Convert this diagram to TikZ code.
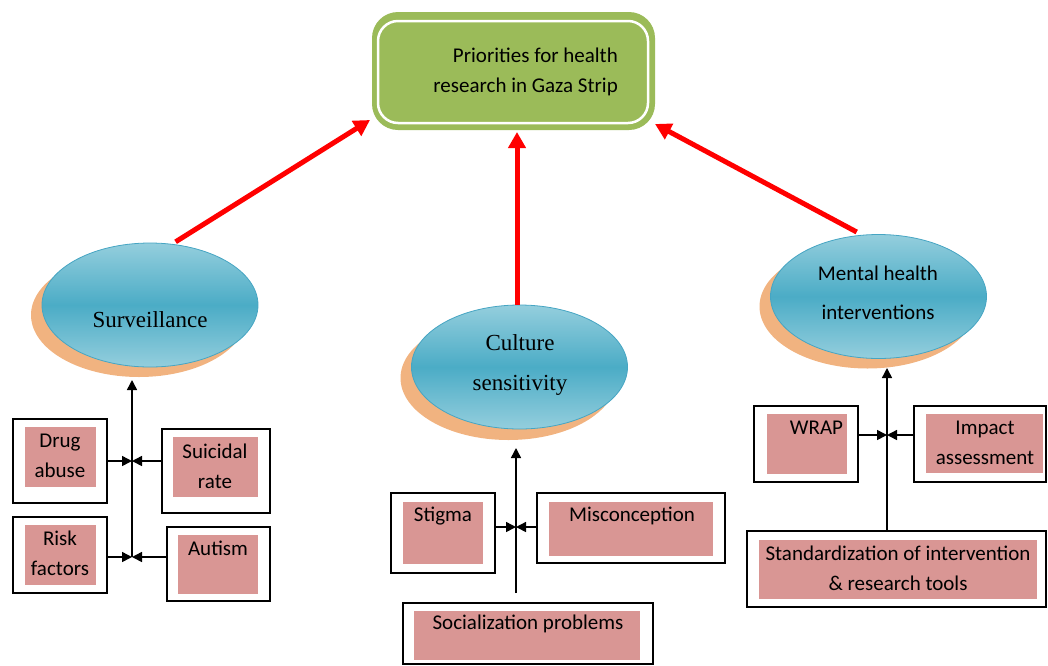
\documentclass[tikz,border=0pt]{standalone}
\usepackage{fontspec}
\setmainfont{Carlito}
\newfontfamily\timesf{Liberation Serif}
\usetikzlibrary{shapes.geometric,arrows.meta,calc}
\definecolor{pinkf}{RGB}{217,150,148}
\definecolor{greenf}{RGB}{155,187,89}
\definecolor{orangef}{RGB}{241,179,128}
\definecolor{bluelight}{RGB}{148,206,221}
\definecolor{bluedark}{RGB}{75,172,198}
\definecolor{blueline}{RGB}{70,165,195}
\begin{document}
\begin{tikzpicture}[x=1pt,y=-1pt,
  obox/.style={draw=black, line width=1.4pt, fill=white, inner sep=0pt},
  pbox/.style={fill=pinkf, inner sep=0pt},
  lbl/.style={font=\fontsize{21}{30}\selectfont, align=center, inner sep=0pt},
  blk/.style={line width=1.5pt, -{Triangle[length=10pt,width=10pt]}},
  redarr/.style={draw=red, line width=5pt, -{Triangle[length=16pt,width=17pt]}},
  shadowell/.style={ellipse, fill=orangef, minimum width=216pt, minimum height=124pt, inner sep=0pt},
  bubble/.style={ellipse, draw=blueline, line width=0.8pt, top color=bluelight, bottom color=bluelight, middle color=bluedark, minimum width=216pt, minimum height=124pt, inner sep=0pt}
]
\useasboundingbox (0,0) rectangle (1048,665);

% ---- top box ----
\node[fill=greenf, rounded corners=26pt, minimum width=283pt, minimum height=118pt, inner sep=0pt] (tb) at (513.5,71) {};
\node[draw=white, line width=2.5pt, rounded corners=20pt, minimum width=270pt, minimum height=102pt, inner sep=0pt] (tbi) at (513,72) {};
\node[lbl, align=right, anchor=east] (tbt) at (618,72) {Priorities for health\\research in Gaza Strip};

% ---- ellipses ----
\node[shadowell] (svs) at (139,315) {};
\node[bubble] (sv) at (150,305) {};
\node[font=\timesf\fontsize{23}{40}\selectfont, inner sep=0pt] (svt) at (150,320) {Surveillance};

\node[shadowell] (css) at (508.5,378) {};
\node[bubble] (cs) at (519.5,367) {};
\node[font=\timesf\fontsize{23}{40}\selectfont, align=center, inner sep=0pt] (cst) at (520,365) {Culture\\sensitivity};

\node[shadowell] (mhs) at (867.5,306.5) {};
\node[bubble] (mh) at (878.5,296.5) {};
\node[lbl, font=\fontsize{21}{39}\selectfont] (mht) at (878,293) {Mental health\\interventions};

% ---- red arrows ----
\coordinate (tL) at (370,120);
\coordinate (tM) at (517,132);
\coordinate (tR) at (655,124);
\draw[redarr, shorten <=4pt] (sv.70) -- (tL);
\draw[redarr] (cs.north -| tM) -- (tM);
\draw[redarr, shorten <=6pt] (mh.105) -- (tR);

% ---- left group ----
\node[obox, minimum width=94pt, minimum height=84pt] (dA) at (60,461) {};
\node[pbox, minimum width=71pt, minimum height=60pt] (dAp) at (60.5,457) {};
\node[lbl] (dAt) at (60,456) {Drug\\abuse};

\node[obox, minimum width=108pt, minimum height=84pt] (sR) at (216,471) {};
\node[pbox, minimum width=85pt, minimum height=60pt] (sRp) at (215.5,467) {};
\node[lbl] (sRt) at (215,466) {Suicidal\\rate};

\node[obox, minimum width=94pt, minimum height=76pt] (rF) at (60,555) {};
\node[pbox, minimum width=71pt, minimum height=60pt] (rFp) at (60.5,555) {};
\node[lbl] (rFt) at (60,553) {Risk\\factors};

\node[obox, minimum width=103pt, minimum height=74pt] (au) at (218.5,564) {};
\node[pbox, minimum width=80pt, minimum height=59pt] (aup) at (218,564.5) {};
\node[lbl] (aut) at (218,548) {Autism};

\coordinate (jl1) at (132,461);
\coordinate (jl2) at (132,557);
\coordinate (jlt) at (132,380);
\draw[blk] (jl2) -- (jlt);
\draw[blk] (dA.east) -- (jl1);
\draw[blk] (sR.west |- jl1) -- (jl1);
\draw[blk] (rF.east |- jl2) -- (jl2);
\draw[blk] (au.west |- jl2) -- (jl2);

% ---- middle group ----
\node[obox, minimum width=104pt, minimum height=80pt] (st) at (443,533) {};
\node[pbox, minimum width=80pt, minimum height=62pt] (stp) at (443,533) {};
\node[lbl] (stt) at (443,516) {Stigma};

\node[obox, minimum width=188pt, minimum height=70pt] (mc) at (631,528) {};
\node[pbox, minimum width=164pt, minimum height=54pt] (mcp) at (631,529) {};
\node[lbl] (mct) at (632,516) {Misconception};

\node[obox, minimum width=250pt, minimum height=61pt] (sp) at (528,633.5) {};
\node[pbox, minimum width=226pt, minimum height=49pt] (spp) at (527,635.5) {};
\node[lbl] (spt) at (528,624) {Socialization problems};

\coordinate (jm) at (516,527);
\coordinate (jmb) at (516,593);
\coordinate (jmt) at (516,448);
\draw[blk] (jmb) -- (jmt);
\draw[blk] (st.east |- jm) -- (jm);
\draw[blk] (mc.west |- jm) -- (jm);

% ---- right group ----
\node[obox, minimum width=104pt, minimum height=76pt] (wr) at (806,444) {};
\node[pbox, minimum width=80pt, minimum height=60pt] (wrp) at (807,444) {};
\node[lbl] (wrt) at (816.5,428) {WRAP};

\node[obox, minimum width=132pt, minimum height=76pt] (ia) at (980,444) {};
\node[pbox, minimum width=117pt, minimum height=59pt] (iap) at (984.5,443.5) {};
\node[lbl] (iat) at (985,443) {Impact\\assessment};

\node[obox, minimum width=299pt, minimum height=76pt] (sd) at (896.5,569) {};
\node[pbox, minimum width=278pt, minimum height=59pt] (sdp) at (898,569.5) {};
\node[lbl] (sdt) at (898,568) {Standardization of intervention\\\& research tools};

\coordinate (jr) at (887,435);
\coordinate (jrt) at (887,368);
\draw[blk] (sd.north -| jr) -- (jrt);
\draw[blk] (wr.east |- jr) -- (jr);
\draw[blk] (ia.west |- jr) -- (jr);
\end{tikzpicture}
\end{document}
